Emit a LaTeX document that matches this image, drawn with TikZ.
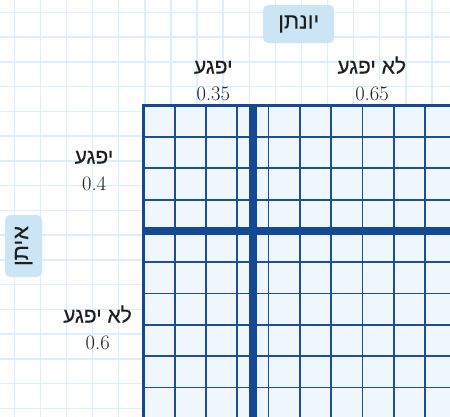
\documentclass[tikz,border=0pt]{standalone}
\usepackage{fontspec}
\newfontfamily\hebfont[Script=Hebrew,FakeBold=0.2]{Liberation Sans}
\TeXXeTstate=1
\definecolor{bggrid}{HTML}{DDEFFA}
\definecolor{mainfill}{HTML}{F0F7FC}
\definecolor{gridblue}{HTML}{1B4F9A}
\definecolor{thickblue}{HTML}{134A93}
\definecolor{boxfill}{HTML}{CCE5F6}
\definecolor{textdark}{HTML}{1E1E1E}
\tikzset{
  bgline/.style={draw=bggrid, line width=1.4pt},
  thinline/.style={draw=gridblue, line width=1.8pt},
  thickline/.style={draw=thickblue, line width=7.4pt},
  borderline/.style={draw=thickblue, line width=3pt},
  namebox/.style={fill=boxfill, rounded corners=5pt, inner sep=0pt, text=textdark,
    font=\hebfont\fontsize{22}{24}\selectfont},
  heblabel/.style={inner sep=0pt, anchor=base, text=textdark, font=\hebfont\fontsize{21}{23}\selectfont},
  numlabel/.style={inner sep=0pt, anchor=base, text=textdark, font=\fontsize{20.5}{23}\selectfont}
}
\begin{document}
\begin{tikzpicture}[x=1pt,y=-1pt]
\useasboundingbox (0,0) rectangle (450,416);
\begin{scope}
\clip (0,0) rectangle (450,416);
\fill[white] (0,0) rectangle (450,416);
\foreach \i in {0,...,17} \draw[bgline] ({14.3+26.1*\i},-2) -- ({14.3+26.1*\i},418);
\foreach \j in {0,...,16} \draw[bgline] (-2,{12.3+24.75*\j}) -- (452,{12.3+24.75*\j});
\fill[mainfill] (143.3,105.7) rectangle (456.3,418.7);
\foreach \i in {1,...,9} {
  \draw[thinline] ({143.3+31.3*\i},105.7) -- ({143.3+31.3*\i},418.7);
  \draw[thinline] (143.3,{105.7+31.3*\i}) -- (456.3,{105.7+31.3*\i});
}
\draw[thickline] (252.85,105.7) -- (252.85,418.7);
\draw[thickline] (143.3,230.9) -- (456.3,230.9);
\draw[borderline] (143.3,105.7) rectangle (456.3,418.7);
\end{scope}
\node[namebox, minimum width=71pt, minimum height=38pt] (jon) at (298.7,24) {\beginR יונתן\endR};
\node[namebox, rotate=90, minimum width=62pt, minimum height=37pt] (eitan) at (23.6,246) {\beginR איתן\endR};
\node[heblabel] (c1) at (213.3,73.5) {\beginR יפגע\endR};
\node[numlabel] (p1) at (213.3,100) {0.35};
\node[heblabel] (c2) at (371.7,73.5) {\beginR לא יפגע\endR};
\node[numlabel] (p2) at (372,100) {0.65};
\node[heblabel] (r1) at (94,163.5) {\beginR יפגע\endR};
\node[numlabel] (q1) at (94.2,190) {0.4};
\node[heblabel] (r2) at (97.5,322.5) {\beginR לא יפגע\endR};
\node[numlabel] (q2) at (97.7,349) {0.6};
\end{tikzpicture}
\end{document}
